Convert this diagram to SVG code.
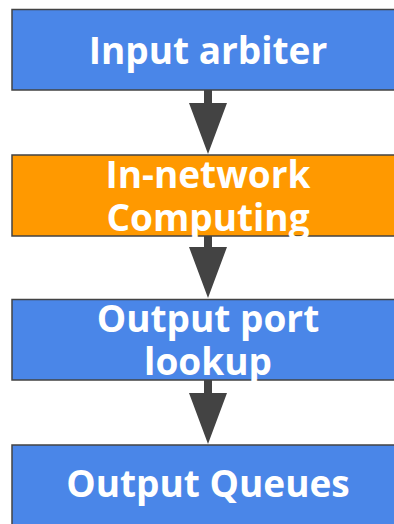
<svg xmlns="http://www.w3.org/2000/svg" width="394" height="524" viewBox="0 0 394 524">
<style>
.box{stroke:#434343;stroke-width:1.5}
.blue{fill:#4a86e8}
.orange{fill:#ff9900}
.t{font-family:"Open Sans","Noto Sans",sans-serif;font-weight:bold;font-size:37px;fill:#ffffff;text-anchor:middle}
.arr{fill:#434343}
</style>
<rect width="394" height="524" fill="#ffffff"/>
<g id="input-arbiter">
<rect class="box blue" x="12" y="9.5" width="392" height="80.5"/>
<text class="t" x="208" y="64">Input arbiter</text>
</g>
<g id="in-network-computing">
<rect class="box orange" x="12" y="155" width="392" height="81"/>
<text class="t" x="208" y="188">In-network</text>
<text class="t" x="208" y="231">Computing</text>
</g>
<g id="output-port-lookup">
<rect class="box blue" x="12" y="299.5" width="392" height="80.5"/>
<text class="t" x="208" y="332">Output port</text>
<text class="t" x="208" y="375">lookup</text>
</g>
<g id="output-queues">
<rect class="box blue" x="12" y="445" width="392" height="90"/>
<text class="t" x="208" y="497">Output Queues</text>
</g>
<g id="connectors">
<path class="arr" d="M204 90 H212 V103 H227 L208 154 L189 103 H204 Z"/>
<path class="arr" d="M204 236 H212 V247 H227 L208 298 L189 247 H204 Z"/>
<path class="arr" d="M204 380 H212 V393 H227 L208 444 L189 393 H204 Z"/>
</g>
</svg>
